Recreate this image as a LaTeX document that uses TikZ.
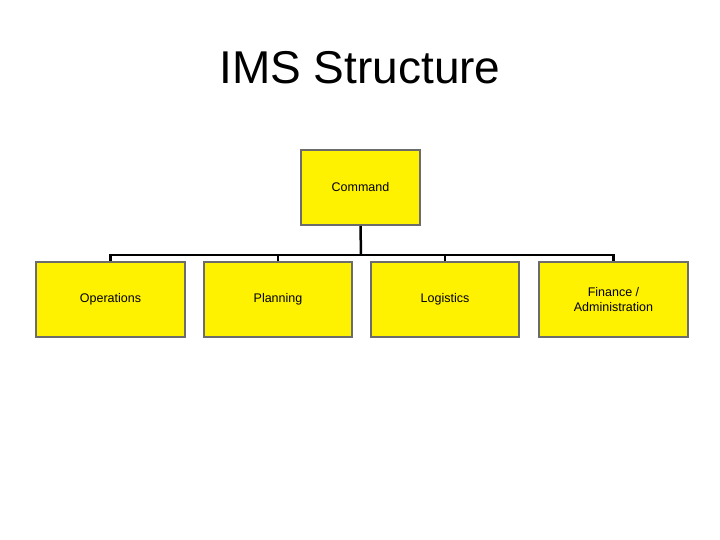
\documentclass[tikz,border=0pt]{standalone}
\usepackage{fontspec}
\setmainfont{Liberation Sans}
\begin{document}
\begin{tikzpicture}[x=1pt,y=-1pt,
  box/.style={draw=gray!85!black,line width=2pt,fill=yellow,minimum height=75pt,align=center,font=\fontsize{12.5}{15}\selectfont,inner sep=0pt},
  conn/.style={line width=2.5pt,black}]
\useasboundingbox (0,0) rectangle (720,540);
\node[font=\fontsize{46}{50}\selectfont] (title) at (360,68) {IMS Structure};
\node[box,minimum width=119pt,minimum height=75pt] (cmd) at (360.5,187.5) {Command};
\node[box,minimum width=149pt] (ops) at (110.5,299.5) {Operations};
\node[box,minimum width=148pt] (plan) at (278,299.5) {Planning};
\node[box,minimum width=148pt] (log) at (445,299.5) {Logistics};
\node[box,minimum width=149pt] (fin) at (613.5,299.5) {Finance /\\Administration};
\coordinate (bar) at (361,255);
\draw[conn] (cmd.south) -- (bar);
\draw[conn] (ops.north) |- (bar) -| (fin.north);
\draw[conn] (plan.north) -- (plan.north |- bar);
\draw[conn] (log.north) -- (log.north |- bar);
\end{tikzpicture}
\end{document}
